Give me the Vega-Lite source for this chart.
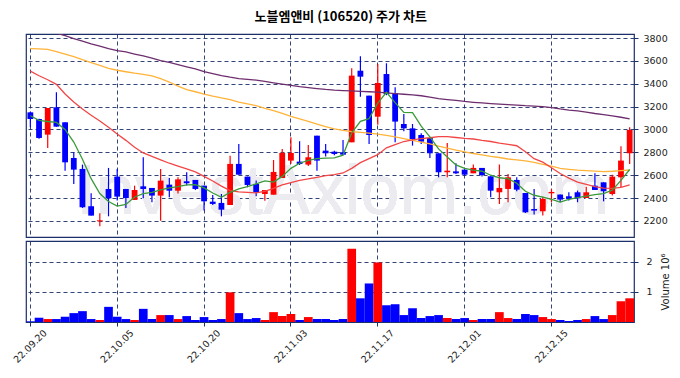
{
  "$schema": "https://vega.github.io/schema/vega-lite/v6.json",
  "background": "white",
  "padding": {"left": 10, "top": 11, "right": 0, "bottom": 0},
  "title": {"text": "노블엠앤비 (106520) 주가 차트", "font": "Noto Sans CJK KR", "fontSize": 13, "fontWeight": "bold", "color": "#000000", "anchor": "middle", "offset": 8},
  "spacing": 2,
  "config": {
    "view": {"stroke": "#1b2f6a", "strokeWidth": 1.2},
    "axis": {"labelFont": "DejaVu Sans", "labelFontSize": 9.5, "labelColor": "#222222", "titleFont": "DejaVu Sans", "titleFontSize": 10, "titleFontWeight": "normal", "titleColor": "#222222", "gridColor": "#1b2f6a", "gridDash": [4, 3], "gridOpacity": 1, "gridWidth": 0.9, "tickColor": "#1b2f6a", "tickSize": 4, "domain": false, "labelOverlap": false}
  },
  "datasets": {
    "p": [
      {"d":"22.09.20","o":3150,"h":3155,"l":3019,"c":3092,"v":20000,"m5":3120,"m20":3510,"m60":3707,"m120":3915},
      {"d":"22.09.21","o":3092,"h":3095,"l":2920,"c":2926,"v":142000,"m5":3080,"m20":3470,"m60":3705,"m120":3890},
      {"d":"22.09.22","o":2955,"h":3188,"l":2838,"c":3188,"v":98000,"m5":3070,"m20":3435,"m60":3700,"m120":3865},
      {"d":"22.09.23","o":3194,"h":3325,"l":3025,"c":3025,"v":98000,"m5":3062,"m20":3395,"m60":3680,"m120":3842},
      {"d":"22.09.26","o":3063,"h":3063,"l":2640,"c":2713,"v":175000,"m5":3000,"m20":3310,"m60":3660,"m120":3820},
      {"d":"22.09.27","o":2751,"h":2800,"l":2524,"c":2649,"v":295000,"m5":2890,"m20":3240,"m60":3637,"m120":3795},
      {"d":"22.09.28","o":2655,"h":2693,"l":2314,"c":2320,"v":360000,"m5":2740,"m20":3180,"m60":3610,"m120":3772},
      {"d":"22.09.29","o":2329,"h":2442,"l":2247,"c":2247,"v":98000,"m5":2570,"m20":3125,"m60":3585,"m120":3748},
      {"d":"22.09.30","o":2197,"h":2267,"l":2154,"c":2206,"v":66000,"m5":2440,"m20":3075,"m60":3560,"m120":3728},
      {"d":"22.10.04","o":2480,"h":2664,"l":2241,"c":2398,"v":503000,"m5":2370,"m20":3020,"m60":3535,"m120":3708},
      {"d":"22.10.05","o":2588,"h":2655,"l":2380,"c":2413,"v":175000,"m5":2330,"m20":2960,"m60":3518,"m120":3690},
      {"d":"22.10.06","o":2480,"h":2480,"l":2314,"c":2401,"v":98000,"m5":2345,"m20":2905,"m60":3505,"m120":3678},
      {"d":"22.10.07","o":2384,"h":2509,"l":2384,"c":2471,"v":66000,"m5":2410,"m20":2845,"m60":3492,"m120":3660},
      {"d":"22.10.11","o":2503,"h":2757,"l":2398,"c":2480,"v":437000,"m5":2440,"m20":2795,"m60":3482,"m120":3643},
      {"d":"22.10.12","o":2489,"h":2489,"l":2364,"c":2422,"v":98000,"m5":2450,"m20":2765,"m60":3468,"m120":3625},
      {"d":"22.10.13","o":2422,"h":2655,"l":2203,"c":2553,"v":230000,"m5":2472,"m20":2735,"m60":3445,"m120":3603},
      {"d":"22.10.14","o":2518,"h":2576,"l":2407,"c":2465,"v":230000,"m5":2490,"m20":2705,"m60":3415,"m120":3587},
      {"d":"22.10.17","o":2465,"h":2582,"l":2440,"c":2564,"v":98000,"m5":2500,"m20":2680,"m60":3380,"m120":3567},
      {"d":"22.10.18","o":2547,"h":2626,"l":2510,"c":2530,"v":197000,"m5":2515,"m20":2655,"m60":3348,"m120":3548},
      {"d":"22.10.19","o":2559,"h":2559,"l":2471,"c":2480,"v":66000,"m5":2518,"m20":2630,"m60":3330,"m120":3530},
      {"d":"22.10.20","o":2509,"h":2509,"l":2291,"c":2372,"v":164000,"m5":2490,"m20":2590,"m60":3310,"m120":3505},
      {"d":"22.10.21","o":2369,"h":2428,"l":2340,"c":2349,"v":66000,"m5":2445,"m20":2550,"m60":3292,"m120":3488},
      {"d":"22.10.24","o":2358,"h":2436,"l":2241,"c":2299,"v":98000,"m5":2407,"m20":2505,"m60":3276,"m120":3471},
      {"d":"22.10.25","o":2340,"h":2771,"l":2340,"c":2699,"v":984000,"m5":2450,"m20":2465,"m60":3262,"m120":3457},
      {"d":"22.10.26","o":2699,"h":2873,"l":2605,"c":2605,"v":295000,"m5":2480,"m20":2455,"m60":3240,"m120":3445},
      {"d":"22.10.27","o":2588,"h":2588,"l":2495,"c":2515,"v":98000,"m5":2500,"m20":2450,"m60":3225,"m120":3438},
      {"d":"22.10.28","o":2524,"h":2553,"l":2416,"c":2451,"v":131000,"m5":2525,"m20":2445,"m60":3208,"m120":3432},
      {"d":"22.10.31","o":2436,"h":2471,"l":2378,"c":2471,"v":66000,"m5":2550,"m20":2460,"m60":3185,"m120":3420},
      {"d":"22.11.01","o":2430,"h":2733,"l":2430,"c":2629,"v":328000,"m5":2540,"m20":2485,"m60":3165,"m120":3408},
      {"d":"22.11.02","o":2576,"h":2830,"l":2576,"c":2795,"v":197000,"m5":2590,"m20":2515,"m60":3140,"m120":3397},
      {"d":"22.11.03","o":2728,"h":2932,"l":2700,"c":2795,"v":262000,"m5":2660,"m20":2535,"m60":3115,"m120":3385},
      {"d":"22.11.04","o":2719,"h":2897,"l":2690,"c":2699,"v":66000,"m5":2705,"m20":2555,"m60":3092,"m120":3375},
      {"d":"22.11.07","o":2693,"h":2865,"l":2680,"c":2757,"v":164000,"m5":2730,"m20":2568,"m60":3072,"m120":3367},
      {"d":"22.11.08","o":2946,"h":2946,"l":2640,"c":2728,"v":98000,"m5":2745,"m20":2582,"m60":3048,"m120":3358},
      {"d":"22.11.09","o":2815,"h":2873,"l":2763,"c":2792,"v":98000,"m5":2750,"m20":2597,"m60":3025,"m120":3350},
      {"d":"22.11.10","o":2806,"h":2815,"l":2775,"c":2786,"v":66000,"m5":2752,"m20":2605,"m60":3005,"m120":3344},
      {"d":"22.11.11","o":2801,"h":2908,"l":2775,"c":2780,"v":98000,"m5":2775,"m20":2620,"m60":2992,"m120":3340},
      {"d":"22.11.14","o":2888,"h":3535,"l":2888,"c":3471,"v":2430000,"m5":2970,"m20":2660,"m60":2982,"m120":3337},
      {"d":"22.11.15","o":3514,"h":3640,"l":3287,"c":3462,"v":787000,"m5":3071,"m20":2710,"m60":2975,"m120":3334},
      {"d":"22.11.16","o":3296,"h":3296,"l":2873,"c":2952,"v":1280000,"m5":3095,"m20":2745,"m60":2968,"m120":3330},
      {"d":"22.11.17","o":3112,"h":3573,"l":3042,"c":3407,"v":1980000,"m5":3230,"m20":2780,"m60":2960,"m120":3326},
      {"d":"22.11.18","o":3485,"h":3579,"l":3300,"c":3310,"v":557000,"m5":3325,"m20":2840,"m60":2948,"m120":3320},
      {"d":"22.11.21","o":3316,"h":3369,"l":2888,"c":3069,"v":590000,"m5":3235,"m20":2868,"m60":2935,"m120":3314},
      {"d":"22.11.22","o":3048,"h":3136,"l":2984,"c":3010,"v":230000,"m5":3150,"m20":2895,"m60":2920,"m120":3308},
      {"d":"22.11.23","o":3010,"h":3048,"l":2859,"c":2917,"v":459000,"m5":3148,"m20":2910,"m60":2905,"m120":3302},
      {"d":"22.11.24","o":2952,"h":2967,"l":2873,"c":2894,"v":131000,"m5":3030,"m20":2920,"m60":2890,"m120":3295},
      {"d":"22.11.25","o":2926,"h":2926,"l":2751,"c":2792,"v":197000,"m5":2935,"m20":2928,"m60":2875,"m120":3283},
      {"d":"22.11.28","o":2792,"h":2792,"l":2582,"c":2626,"v":230000,"m5":2830,"m20":2938,"m60":2855,"m120":3270},
      {"d":"22.11.29","o":2626,"h":2882,"l":2582,"c":2640,"v":131000,"m5":2760,"m20":2938,"m60":2838,"m120":3262},
      {"d":"22.11.30","o":2634,"h":2704,"l":2610,"c":2617,"v":98000,"m5":2690,"m20":2930,"m60":2820,"m120":3254},
      {"d":"22.12.01","o":2649,"h":2649,"l":2597,"c":2605,"v":131000,"m5":2660,"m20":2922,"m60":2805,"m120":3245},
      {"d":"22.12.02","o":2617,"h":2693,"l":2617,"c":2664,"v":66000,"m5":2645,"m20":2917,"m60":2790,"m120":3238},
      {"d":"22.12.05","o":2664,"h":2664,"l":2588,"c":2602,"v":98000,"m5":2635,"m20":2905,"m60":2778,"m120":3232},
      {"d":"22.12.06","o":2591,"h":2591,"l":2407,"c":2465,"v":98000,"m5":2600,"m20":2895,"m60":2765,"m120":3227},
      {"d":"22.12.07","o":2451,"h":2693,"l":2349,"c":2489,"v":328000,"m5":2578,"m20":2880,"m60":2755,"m120":3222},
      {"d":"22.12.08","o":2480,"h":2611,"l":2364,"c":2582,"v":131000,"m5":2570,"m20":2870,"m60":2742,"m120":3217},
      {"d":"22.12.09","o":2559,"h":2582,"l":2460,"c":2474,"v":98000,"m5":2530,"m20":2858,"m60":2735,"m120":3213},
      {"d":"22.12.12","o":2445,"h":2445,"l":2270,"c":2276,"v":262000,"m5":2460,"m20":2805,"m60":2725,"m120":3208},
      {"d":"22.12.13","o":2305,"h":2480,"l":2256,"c":2291,"v":230000,"m5":2425,"m20":2745,"m60":2712,"m120":3205},
      {"d":"22.12.14","o":2285,"h":2413,"l":2247,"c":2393,"v":164000,"m5":2408,"m20":2715,"m60":2695,"m120":3200},
      {"d":"22.12.15","o":2442,"h":2480,"l":2364,"c":2454,"v":98000,"m5":2388,"m20":2665,"m60":2680,"m120":3192},
      {"d":"22.12.16","o":2431,"h":2431,"l":2364,"c":2387,"v":66000,"m5":2365,"m20":2615,"m60":2660,"m120":3180},
      {"d":"22.12.19","o":2416,"h":2451,"l":2380,"c":2393,"v":33000,"m5":2390,"m20":2575,"m60":2652,"m120":3170},
      {"d":"22.12.20","o":2451,"h":2466,"l":2364,"c":2398,"v":66000,"m5":2405,"m20":2540,"m60":2645,"m120":3162},
      {"d":"22.12.21","o":2401,"h":2500,"l":2401,"c":2451,"v":98000,"m5":2418,"m20":2520,"m60":2640,"m120":3152},
      {"d":"22.12.22","o":2509,"h":2617,"l":2471,"c":2471,"v":197000,"m5":2430,"m20":2500,"m60":2636,"m120":3140},
      {"d":"22.12.23","o":2538,"h":2538,"l":2372,"c":2460,"v":98000,"m5":2440,"m20":2488,"m60":2632,"m120":3130},
      {"d":"22.12.26","o":2436,"h":2605,"l":2422,"c":2588,"v":230000,"m5":2470,"m20":2486,"m60":2635,"m120":3120},
      {"d":"22.12.27","o":2582,"h":2853,"l":2495,"c":2728,"v":689000,"m5":2555,"m20":2494,"m60":2640,"m120":3107},
      {"d":"22.12.28","o":2792,"h":3019,"l":2699,"c":2996,"v":787000,"m5":2650,"m20":2515,"m60":2646,"m120":3092}
    ]
  },
  "vconcat": [
    {
      "width": 608,
      "height": 203,
      "data": {"name": "p"},
      "resolve": {"axis": {"y": "independent"}},
      "encoding": {
        "x": {"field": "d", "type": "ordinal", "scale": {"paddingInner": 0, "paddingOuter": 0},
              "axis": {"values": ["22.09.20","22.10.05","22.10.20","22.11.03","22.11.17","22.12.01","22.12.15"], "labels": false, "ticks": false, "title": null, "grid": true, "bandPosition": 0.5}}
      },
      "layer": [
        {
          "mark": {"type": "text", "font": "Liberation Sans", "fontSize": 70, "color": "#ebebf0", "align": "center", "baseline": "alphabetic"},
          "encoding": {
            "x": {"datum": "22.11.11"},
            "y": {"datum": 2261, "axis": null},
            "text": {"value": "InvestAxiom.com"}
          }
        },
        {
          "mark": {"type": "rule", "strokeWidth": 1.2},
          "encoding": {
            "y": {"field": "l", "type": "quantitative", "scale": {"domain": [2060, 3835], "nice": false, "zero": false},
                  "axis": {"orient": "right", "values": [2200,2400,2600,2800,3000,3200,3400,3600,3800], "format": "d", "title": null, "grid": true, "labelPadding": 5, "labelOverlap": false, "labelBound": false, "labelFlush": false}},
            "y2": {"field": "h"},
            "color": {"condition": {"test": "datum.c >= datum.o", "value": "#ff0000"}, "value": "#0000ff"}
          }
        },
        {
          "mark": {"type": "bar", "size": 5.8},
          "encoding": {
            "y": {"field": "o", "type": "quantitative", "axis": null},
            "y2": {"field": "c"},
            "color": {"condition": {"test": "datum.c >= datum.o", "value": "#ff0000"}, "value": "#0000ff"}
          }
        },
        {
          "mark": {"type": "line", "color": "#6e2e6e", "strokeWidth": 1.3, "clip": true},
          "encoding": {"y": {"field": "m120", "type": "quantitative", "axis": null}}
        },
        {
          "mark": {"type": "line", "color": "#ffb339", "strokeWidth": 1.3, "clip": true},
          "encoding": {"y": {"field": "m60", "type": "quantitative", "axis": null}}
        },
        {
          "mark": {"type": "line", "color": "#f24646", "strokeWidth": 1.3, "clip": true},
          "encoding": {"y": {"field": "m20", "type": "quantitative", "axis": null}}
        },
        {
          "mark": {"type": "line", "color": "#3a9a3a", "strokeWidth": 1.3, "clip": true},
          "encoding": {"y": {"field": "m5", "type": "quantitative", "axis": null}}
        }
      ]
    },
    {
      "width": 608,
      "height": 81,
      "data": {"name": "p"},
      "mark": {"type": "bar"},
      "encoding": {
        "x": {"field": "d", "type": "ordinal", "scale": {"paddingInner": 0, "paddingOuter": 0},
              "axis": {"values": ["22.09.20","22.10.05","22.10.20","22.11.03","22.11.17","22.12.01","22.12.15"], "title": null, "grid": true, "bandPosition": 0.5, "labelAngle": -45, "labelAlign": "center", "labelBaseline": "middle", "labelPadding": 20}},
        "y": {"field": "v", "type": "quantitative", "scale": {"domain": [0, 2690000], "nice": false},
              "axis": {"orient": "right", "values": [1000000, 2000000], "labelExpr": "datum.value / 1000000", "title": "Volume  10⁶", "titleAngle": 270, "titleBaseline": "top", "titlePadding": 8, "labelPadding": 8, "grid": true}},
        "color": {"condition": {"test": "datum.c >= datum.o", "value": "#ff0000"}, "value": "#0000ff"}
      }
    }
  ]
}
